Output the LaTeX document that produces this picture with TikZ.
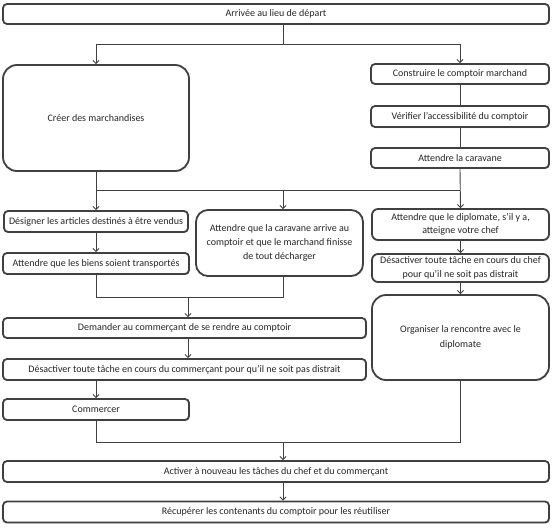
\documentclass[tikz,border=0pt]{standalone}
\usepackage{fontspec}
\setmainfont{Carlito}
\usetikzlibrary{arrows.meta,shadows}
\definecolor{bd}{HTML}{404040}
\definecolor{tx}{HTML}{262626}
\begin{document}
\begin{tikzpicture}[x=1pt,y=-1pt,
  box/.style={draw=bd, line width=1.8pt, fill=white, rounded corners=4pt, inner sep=0pt,
    text=tx, font=\fontsize{10}{13.5}\selectfont, align=center,
    drop shadow={opacity=0.18, shadow xshift=1pt, shadow yshift=-1.2pt}},
  conn/.style={draw=bd, line width=0.9pt},
  arr/.style={conn, -{Straight Barb[length=3pt,width=6pt]}},
]
\useasboundingbox (0,0) rectangle (553,527);

\node[box, minimum width=546, minimum height=20] (A) at (276,14) {Arrivée au lieu de départ};
\node[box, rounded corners=14pt, minimum width=186, minimum height=106] (B) at (96,118) {Créer des marchandises};
\node[box, minimum width=178, minimum height=20] (C) at (460,74) {Construire le comptoir marchand};
\node[box, minimum width=178, minimum height=21] (D) at (460,116.5) {Vérifier l’accessibilité du comptoir};
\node[box, minimum width=178, minimum height=20] (E) at (460,158) {Attendre la caravane};
\node[box, minimum width=184, minimum height=21] (F) at (96,221.5) {Désigner les articles destinés à être vendus};
\node[box, minimum width=186, minimum height=21] (G) at (96,263.5) {Attendre que les biens soient transportés};
\node[box, rounded corners=12pt, minimum width=167, minimum height=66, font=\fontsize{10}{14}\selectfont] (H) at (279.5,243)
  {Attendre que la caravane arrive au\\comptoir et que le marchand finisse\\de tout décharger};
\node[box, rounded corners=6pt, minimum width=177, minimum height=31] (I) at (460.5,224.5)
  {Attendre que le diplomate, s’il y a,\\atteigne votre chef};
\node[box, rounded corners=6pt, minimum width=177, minimum height=28] (J) at (460.5,268)
  {Désactiver toute tâche en cours du chef\\pour qu’il ne soit pas distrait};
\node[box, rounded corners=14pt, minimum width=177, minimum height=85, font=\fontsize{10}{15}\selectfont] (K) at (460.5,337.5)
  {Organiser la rencontre avec le\\diplomate};
\node[box, minimum width=363, minimum height=20] (L) at (184.5,328) {Demander au commerçant de se rendre au comptoir};
\node[box, minimum width=363, minimum height=21] (M) at (184.5,369.5) {Désactiver toute tâche en cours du commerçant pour qu’il ne soit pas distrait};
\node[box, minimum width=186, minimum height=21] (N) at (96,409.5) {Commercer};
\node[box, minimum width=546, minimum height=21] (O) at (276,471.5) {Activer à nouveau les tâches du chef et du commerçant};
\node[box, minimum width=546, minimum height=21] (P) at (276,512) {Récupérer les contenants du comptoir pour les réutiliser};

\coordinate (j1) at (283,44);
\coordinate (j2) at (283,190);
\coordinate (j3) at (188,297);
\coordinate (j4) at (283,442);

\draw[conn] (A.south -| j1) -- (j1);
\draw[arr] (j1) -| (B.north);
\draw[arr] (j1) -| (C.north);
\draw[conn] (C.south) -- (D.north);
\draw[conn] (D.south) -- (E.north);

\draw[conn] (B.south) -- (B.south |- j2) -- (E.south |- j2);
\draw[arr] (E.south) -- (I.north);
\draw[arr] (B.south |- j2) -- (F.north);
\draw[arr] (j2) -- (j2 |- H.north);
\draw[arr] (F.south) -- (G.north);

\draw[conn] (G.south) |- (j3);
\draw[conn] (j2 |- H.south) |- (j3);
\draw[arr] (j3) -- (j3 |- L.north);
\draw[arr] (j3 |- L.south) -- (j3 |- M.north);
\draw[arr] (N.north |- M.south) -- (N.north);

\draw[arr] (I.south) -- (J.north);
\draw[arr] (J.south) -- (K.north);

\draw[conn] (N.south) |- (j4);
\draw[conn] (K.south) |- (j4);
\draw[arr] (j4) -- (j4 |- O.north);
\draw[arr] (j4 |- O.south) -- (j4 |- P.north);
\end{tikzpicture}
\end{document}
